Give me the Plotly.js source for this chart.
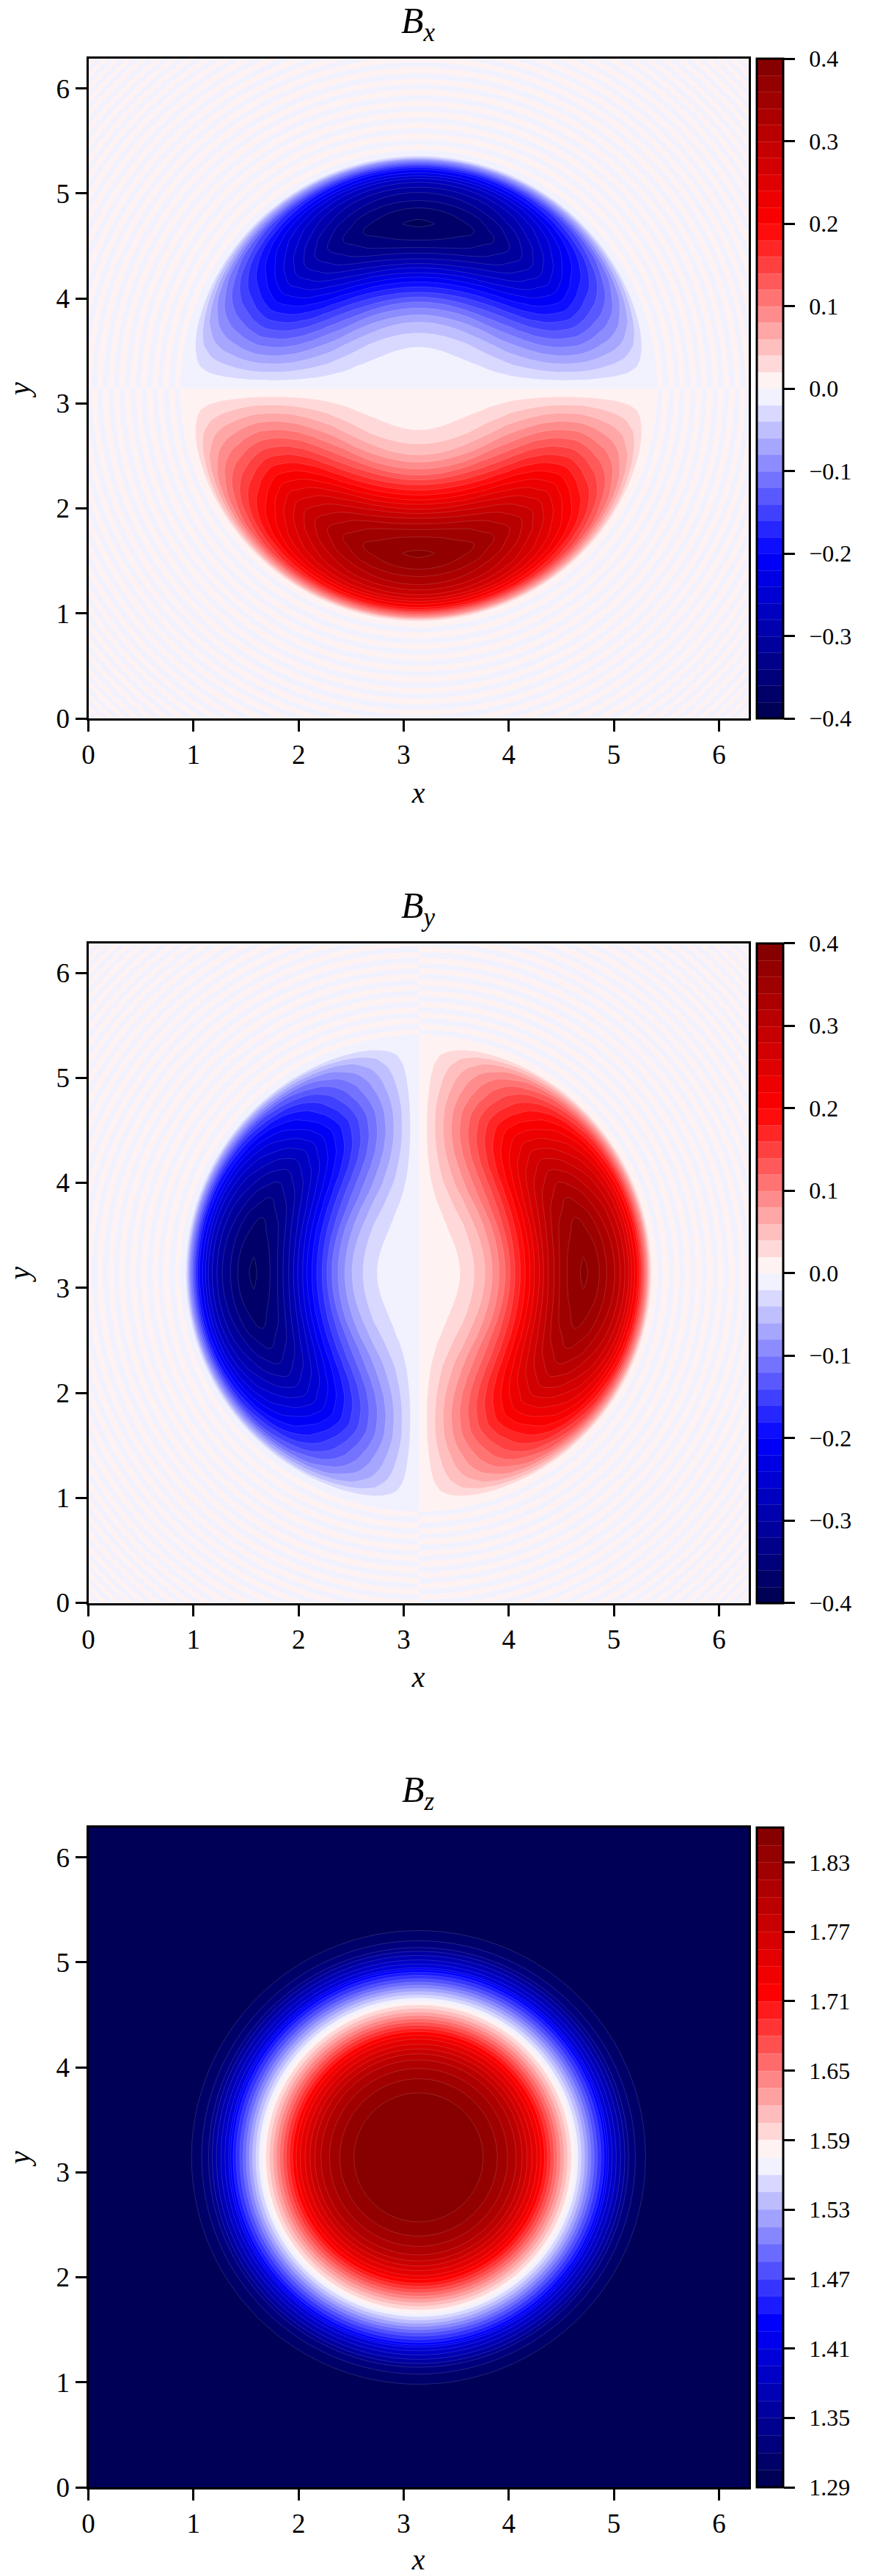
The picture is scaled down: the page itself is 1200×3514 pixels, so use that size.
<!DOCTYPE html>
<html>
<head>
<meta charset="utf-8">
<script src="https://cdn.plot.ly/plotly-3.0.1.min.js"></script>
<style>html,body{margin:0;padding:0;background:#fff}</style>
</head>
<body>
<div id="myPlot" style="width:1200px;height:3514px"></div>
<script>
// Values

// Bx / By lobe strength along the line through the peak
var lobeRadius = [0,0.2,0.394,0.529,0.632,0.701,0.766,0.824,0.871,0.917,0.968,1.015,1.062,1.103,1.15,1.19,1.236,1.29,1.343,1.413,1.54,1.575,1.61,1.72,1.79,1.867,1.918,1.964,2.0,2.04,2.085,2.12,2.15,2.18,2.2,2.214,2.25,2.27];
var lobePeak = [0,0.01,0.02,0.04,0.06,0.08,0.10,0.12,0.14,0.16,0.18,0.20,0.22,0.24,0.26,0.28,0.30,0.32,0.34,0.36,0.38,0.382,0.38,0.36,0.34,0.32,0.30,0.28,0.26,0.23,0.20,0.16,0.12,0.08,0.04,0.02,0.006,0.004];
// share of that strength left at an angle away from the cut line
var lobeTheta = [0,1,2,3,4,6,8,10,12,15,18,21,24,27,30,35,40,45,50,55,60,65,70,75,80,85,90];
var lobeShare = [0,0.017,0.035,0.052,0.07,0.105,0.139,0.174,0.208,0.259,0.309,0.358,0.407,0.454,0.5,0.574,0.643,0.707,0.766,0.819,0.866,0.906,0.94,0.966,0.985,0.996,1];

// faint rings outside the lobes, radius where the colour flips
var ringRadii = [2.27,2.32,2.375,2.43,2.48,2.53,2.585,2.64,2.69,2.74,2.795,2.85,2.9,2.95,3.005,3.06,3.11,3.16,3.21,3.26,3.31,3.36,3.41,3.46,3.51,3.56,3.61,3.66,3.705,3.75,3.795,3.84,3.885,3.93,3.975,4.02,4.065,4.11,4.15,4.19,4.23,4.27,4.31,4.35,4.39,4.43,4.47];

// Bz radial profile
var bzRadius = [0,0.3,0.614,0.749,0.847,0.928,0.986,1.033,1.079,1.126,1.184,1.28,1.38,1.486,1.58,1.68,1.777,1.807,1.842,1.881,1.923,1.963,1.998,2.063,2.16,2.3,4.5];
var bzValue = [1.857,1.854,1.845,1.83,1.815,1.8,1.785,1.77,1.755,1.74,1.7175,1.67,1.622,1.575,1.53,1.48,1.4325,1.41,1.395,1.38,1.365,1.35,1.335,1.32,1.305,1.295,1.293];

var axisTicks = [0,1,2,3,4,5,6];
var bxTicks = {tick0:0, dtick:0.1, fmt:'.1f'};
var bzTicks = {tick0:1.29, dtick:0.06, fmt:'.2f'};

// contour fills stretch the scale over the band middles, so these run from first to last band
var seismicFull = [[0,'rgb(0,0,77)'],[0.25,'rgb(0,0,255)'],[0.5,'rgb(255,255,255)'],[0.75,'rgb(255,0,0)'],[1,'rgb(128,0,0)']];
var seismicBands = [[0,'rgb(0,0,86)'],[0.2436,'rgb(0,0,255)'],[0.5,'rgb(255,255,255)'],[0.7564,'rgb(255,0,0)'],[1,'rgb(134,0,0)']];
var redSide = [[0,'rgb(255,242,242)'],[0.5,'rgb(255,0,0)'],[1,'rgb(134,0,0)']];
var blueSide = [[0,'rgb(242,242,255)'],[0.5,'rgb(0,0,255)'],[1,'rgb(0,0,86)']];

var serif = 'Liberation Serif, DejaVu Serif, serif';
var CX = Math.PI;

var data = [];

function polarGrid(radius, thetaDeg, offset){
  var X = [], Y = [];
  for(var b=0;b<thetaDeg.length;b++){
    var t = (thetaDeg[b]+offset)*Math.PI/180;
    var rx = [], ry = [];
    for(var a=0;a<radius.length;a++){
      rx.push(CX+radius[a]*Math.cos(t));
      ry.push(CX+radius[a]*Math.sin(t));
    }
    X.push(rx); Y.push(ry);
  }
  return {X:X, Y:Y};
}

function colorbarOpts(cbTicks, top){
  return {x:1032/1200, xanchor:'left', xpad:0, y:1-top/3514, yanchor:'top', ypad:0, len:900, lenmode:'pixels', thickness:36, thicknessmode:'pixels',
    outlinewidth:3, outlinecolor:'#000', ticks:'outside', ticklen:15, tickwidth:3, tickcolor:'#000',
    tick0:cbTicks.tick0, dtick:cbTicks.dtick, tickformat:cbTicks.fmt, tickprefix:'\u2009\u2009', tickfont:{family:serif, size:32, color:'#000'}};
}

// one half disc: a carpet in radius/angle and the filled contours on it
function addHalf(id, n, radius, thetaDeg, Z, offset, lev, scale){
  var g = polarGrid(radius, thetaDeg, offset);
  var hiddenAxis = {showgrid:false, showline:false, showticklabels:'none', startline:false, endline:false, minorgridcount:0, smoothing:1};
  data.push({type:'carpet', carpet:id, a:radius, b:thetaDeg, x:g.X, y:g.Y, xaxis:'x'+n, yaxis:'y'+n, aaxis:hiddenAxis, baxis:hiddenAxis});
  data.push({type:'contourcarpet', carpet:id, a:radius, b:thetaDeg, z:Z, autocontour:false,
    contours:{coloring:'fill', start:lev.start, end:lev.end, size:lev.size, showlines:true},
    line:{color:'rgba(255,255,255,0.2)', width:0.7, smoothing:1},
    colorscale:scale, zauto:false, zmin:lev.min, zmax:lev.max, showscale:false, hoverinfo:'skip'});
}

// the colorbar sits on a small contour outside the axis range
function addBar(n, lev, cbTicks, top){
  data.push({type:'contour', x:[100,101], y:[100,101], z:[[lev.min,lev.max],[lev.min,lev.max]], autocontour:false,
    contours:{coloring:'fill', start:lev.start, end:lev.end, size:lev.size},
    line:{color:'rgba(255,255,255,0.2)', width:0.7},
    colorscale:seismicBands, zauto:false, zmin:lev.min, zmax:lev.max, xaxis:'x'+n, yaxis:'y'+n, hoverinfo:'skip', colorbar:colorbarOpts(cbTicks, top)});
}

// lobe table for 0..180 degrees, the second quarter mirrors the first
var theta180 = lobeTheta.slice();
for(var i=lobeTheta.length-2;i>=0;i--) theta180.push(180-lobeTheta[i]);
var lobeZ = [];
for(var b=0;b<theta180.length;b++){
  var j = b<lobeTheta.length ? b : 2*(lobeTheta.length-1)-b;
  var row = [];
  for(var a=0;a<lobeRadius.length;a++) row.push(lobePeak[a]*lobeShare[j]);
  lobeZ.push(row);
}

// ring layer, cutUp true when the sign flips across y = pi (Bx), else across x = pi (By)
function ringTrace(n, cutUp){
  var N = 600, step = 2*Math.PI/N, z = [];
  for(var iy=0;iy<N;iy++){
    var row = [], y = (iy+0.5)*step-CX;
    for(var ix=0;ix<N;ix++){
      var x = (ix+0.5)*step-CX, r = Math.sqrt(x*x+y*y), k = 0;
      while(k<ringRadii.length && ringRadii[k]<=r) k++;
      var disc = cutUp ? (y>0?-1:1) : (x>0?1:-1);
      row.push((k%2==1 ? -disc : disc)*0.01);
    }
    z.push(row);
  }
  return {type:'heatmap', z:z, x0:step/2, dx:step, y0:step/2, dy:step, zsmooth:false, colorscale:seismicFull, zauto:false, zmin:-0.4, zmax:0.4, showscale:false, hoverinfo:'skip', xaxis:'x'+n, yaxis:'y'+n};
}

var levBx = {start:-0.38, end:0.38, size:0.02, min:-0.4, max:0.4};
var levSide = {start:0.02, end:0.38, size:0.02, min:-0.4, max:0.4};
var levBz = {start:1.305, end:1.845, size:0.015, min:1.29, max:1.86};
var tops = [80, 1286.5, 2493];

data.push(ringTrace('', true));
addHalf('bxU','',lobeRadius,theta180,lobeZ,0,levSide,blueSide);
addHalf('bxD','',lobeRadius,theta180,lobeZ,180,levSide,redSide);
addBar('',levBx,bxTicks,tops[0]);

data.push(ringTrace('2', false));
addHalf('byL','2',lobeRadius,theta180,lobeZ,90,levSide,blueSide);
addHalf('byR','2',lobeRadius,theta180,lobeZ,270,levSide,redSide);
addBar('2',levBx,bxTicks,tops[1]);

// Bz is the same at every angle, one column per 5 degrees
var thetaBz = [];
for(var d=0;d<=180;d+=5) thetaBz.push(d);
var Zbz = thetaBz.map(function(){ return bzValue.slice(); });
addHalf('bzU','3',bzRadius,thetaBz,Zbz,0,levBz,seismicBands);
addHalf('bzD','3',bzRadius,thetaBz,Zbz,180,levBz,seismicBands);
addBar('3',levBz,bzTicks,tops[2]);

function axisOpts(title, domain, anchor, standoff){
  return {domain:domain, anchor:anchor, range:[0,2*Math.PI], tickmode:'array', tickvals:axisTicks, ticktext:axisTicks.map(String),
    showline:true, mirror:true, linewidth:3, linecolor:'#000', ticks:'outside', ticklen:15, tickwidth:3, tickcolor:'#000',
    showgrid:false, zeroline:false, tickfont:{family:serif, size:37, color:'#000'},
    title:{text:title, font:{family:serif, size:40, color:'#000'}, standoff:standoff}};
}

var layout = {width:1200, height:3514, margin:{l:0,r:0,t:0,b:0}, paper_bgcolor:'#fff', plot_bgcolor:'#fff', showlegend:false, annotations:[]};
var names = ['x','y','z'];
for(var p=0;p<3;p++){
  var suffix = p==0 ? '' : String(p+1);
  var xd = [120.5/1200, 1021/1200];
  var yd = [1-(tops[p]+900)/3514, 1-tops[p]/3514];
  layout['xaxis'+suffix] = axisOpts('<i>x</i>', xd, 'y'+suffix, 18);
  layout['yaxis'+suffix] = axisOpts('<i>y</i>', yd, 'x'+suffix, 24);
  layout.annotations.push({xref:'paper', yref:'paper', x:570/1200, y:1-(tops[p]-48)/3514, xanchor:'center', yanchor:'middle', showarrow:false,
    text:'<i>B</i><sub><i>'+names[p]+'</i></sub>', font:{family:serif, size:50, color:'#000'}});
}

Plotly.newPlot('myPlot', data, layout, {displayModeBar:false, staticPlot:true}).then(function(){
  // carpets leave empty axis title nodes behind
  var texts = document.querySelectorAll('#myPlot text');
  for(var t=0;t<texts.length;t++){
    if(!texts[t].textContent.trim()) texts[t].parentNode.removeChild(texts[t]);
  }
});
</script>
</body>
</html>
